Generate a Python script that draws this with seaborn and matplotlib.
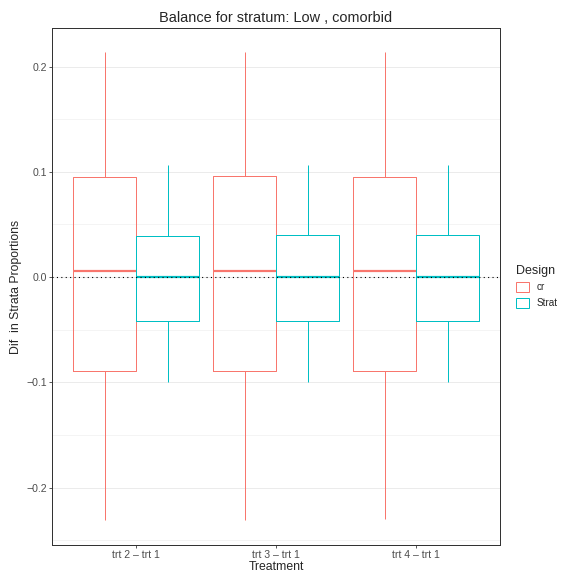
import numpy as np
import pandas as pd
import matplotlib
matplotlib.use("Agg")
import matplotlib.pyplot as plt
from matplotlib.ticker import MultipleLocator
import seaborn as sns

# five-number summaries (min, q1, median, q3, max)
treatments = ["trt 2 \u2013 trt 1", "trt 3 \u2013 trt 1", "trt 4 \u2013 trt 1"]
designs = ["cr", "Strat"]
cr_stats = [
    [-0.231, -0.089, 0.0057, 0.095, 0.214],
    [-0.231, -0.089, 0.0057, 0.096, 0.214],
    [-0.230, -0.089, 0.0057, 0.095, 0.214],
]
strat_stats = [
    [-0.100, -0.042, 0.0, 0.039, 0.106],
    [-0.100, -0.042, 0.0, 0.040, 0.106],
    [-0.100, -0.042, 0.0, 0.040, 0.106],
]
palette = {"cr": "#F8766D", "Strat": "#00BFC4"}

rows = []
for trt, crs, sts in zip(treatments, cr_stats, strat_stats):
    for v in crs:
        rows.append({"Treatment": trt, "Design": "cr", "dif": v})
    for v in sts:
        rows.append({"Treatment": trt, "Design": "Strat", "dif": v})
df = pd.DataFrame(rows)

sns.set_style("white")
plt.rcParams["font.family"] = ["Liberation Sans", "DejaVu Sans"]

fig = plt.figure(figsize=(567 / 72, 574 / 72), dpi=72)
ax = fig.add_axes([52 / 567, 1 - 545 / 574, 448 / 567, 517 / 574])

# whiskers run to min/max like the ggplot original
sns.boxplot(data=df, x="Treatment", y="dif", hue="Design", hue_order=designs,
            palette=palette, fill=False, whis=np.inf, width=0.9, gap=0,
            showcaps=False, linewidth=1.0, medianprops={"linewidth": 2.2},
            ax=ax)

# dotted reference line drawn over the boxes
ax.axhline(0, color="black", linestyle=(0, (1, 3)), linewidth=1.1, zorder=5)

ax.set_xlim(-0.6, 2.6)
ax.set_ylim(-0.2546, 0.2366)
ax.yaxis.set_minor_locator(MultipleLocator(0.05))
ax.set_yticks([-0.2, -0.1, 0.0, 0.1, 0.2])
ax.set_yticklabels(["\u22120.2", "\u22120.1", "0.0", "0.1", "0.2"])
ax.grid(axis="y", which="major", color="#EBEBEB", linewidth=1.0, zorder=0)
ax.grid(axis="y", which="minor", color="#EBEBEB", linewidth=0.5, zorder=0)
ax.set_axisbelow(True)
for s in ax.spines.values():
    s.set_color("#333333")
    s.set_linewidth(1.0)
ax.tick_params(axis="both", which="major", length=3, color="#333333",
               labelsize=10.5, labelcolor="#4D4D4D", left=True, bottom=True,
               pad=2)
ax.tick_params(axis="y", which="minor", length=0)

ax.set_xlabel("Treatment", fontsize=12.3, labelpad=1)
ax.set_ylabel("Dif  in Strata Proportions", fontsize=12.3, labelpad=4)
ax.set_title("Balance for stratum: Low , comorbid", fontsize=14.5, pad=6)

sns.move_legend(ax, "center left", bbox_to_anchor=(1.015, 0.5), frameon=False,
                title="Design", fontsize=10, title_fontsize=12.5,
                handlelength=1.3, handleheight=1.2, alignment="left")

fig.savefig("out.png", dpi=72)
